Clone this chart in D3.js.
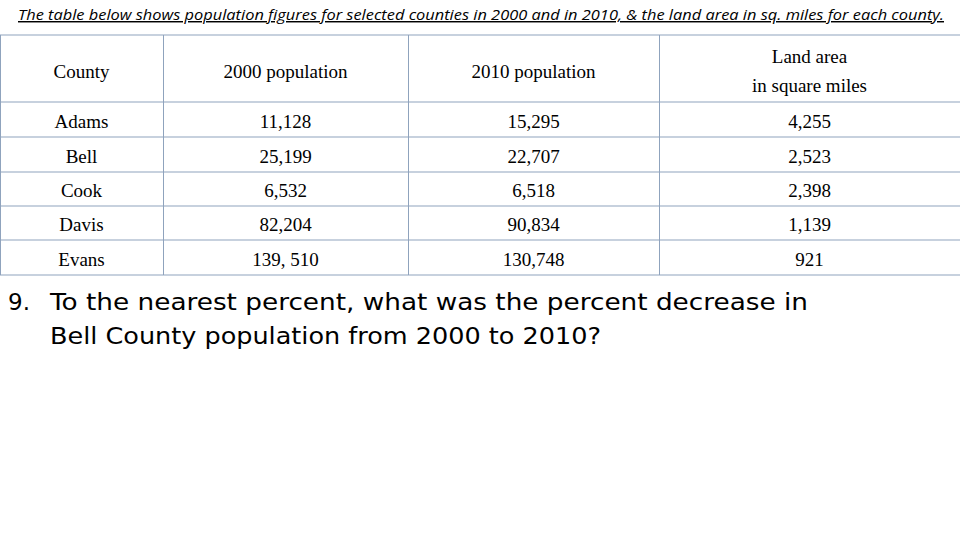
<!DOCTYPE html><html><head><meta charset="utf-8"><script src="https://cdn.jsdelivr.net/npm/d3@7"></script>
<style>body{margin:0;background:#fff}</style></head><body><svg id="c" width="960" height="540"></svg>
<script>
const headers=["County","2000 population","2010 population",["Land area","in square miles"]];
const counties=["Adams","Bell","Cook","Davis","Evans"];
const pop2000=["11,128","25,199","6,532","82,204","139, 510"];
const pop2010=["15,295","22,707","6,518","90,834","130,748"];
const landArea=["4,255","2,523","2,398","1,139","921"];
const title="The table below shows population figures for selected counties in 2000 and in 2010, & the land area in sq. miles for each county.";
const qNum="9.";
const question=["To the nearest percent, what was the percent decrease in","Bell County population from 2000 to 2010?"];

const svg=d3.select("#c");
const colX=[0,163,408,659,960];
const rowY=[35,102,137,172,206,240,275];
const border="#8fa3bd";
svg.append("text").attr("x",18).attr("y",20)
 .attr("font-family","Open Sans").attr("font-style","italic").attr("font-size",14.5)
 .attr("textLength",926).attr("lengthAdjust","spacingAndGlyphs")
 .attr("text-decoration","underline").text(title);
const g=svg.append("g");
rowY.forEach(y=>g.append("line").attr("x1",0).attr("x2",960).attr("y1",y).attr("y2",y).attr("stroke",border));
colX.forEach(x=>g.append("line").attr("x1",x+0.5).attr("x2",x+0.5).attr("y1",rowY[0]).attr("y2",rowY[6]).attr("stroke",border));
const cx=i=>(colX[i]+colX[i+1])/2;
const font="Liberation Serif";
headers.forEach((h,i)=>{
  const t=g.append("text").attr("x",cx(i)).attr("text-anchor","middle").attr("font-family",font).attr("font-size",19);
  if(Array.isArray(h)){t.append("tspan").attr("x",cx(i)).attr("y",63).text(h[0]);t.append("tspan").attr("x",cx(i)).attr("y",92).text(h[1]);}
  else t.attr("y",78).text(h);
});
const rows=counties.map((c,i)=>[c,pop2000[i],pop2010[i],landArea[i]]);
rows.forEach((r,ri)=>r.forEach((v,ci)=>{
  g.append("text").attr("x",cx(ci)).attr("y",(rowY[ri+1]+rowY[ri+2])/2+8).attr("text-anchor","middle")
   .attr("font-family",font).attr("font-size",19).text(v);
}));
svg.append("text").attr("x",8).attr("y",310).attr("font-family","DejaVu Sans").attr("font-size",23).text(qNum);
const qLens=[758,551];
question.forEach((q,i)=>svg.append("text").attr("x",50).attr("y",310+i*34)
  .attr("font-family","DejaVu Sans").attr("font-size",23).attr("textLength",qLens[i]).attr("lengthAdjust","spacingAndGlyphs").text(q));
</script></body></html>
